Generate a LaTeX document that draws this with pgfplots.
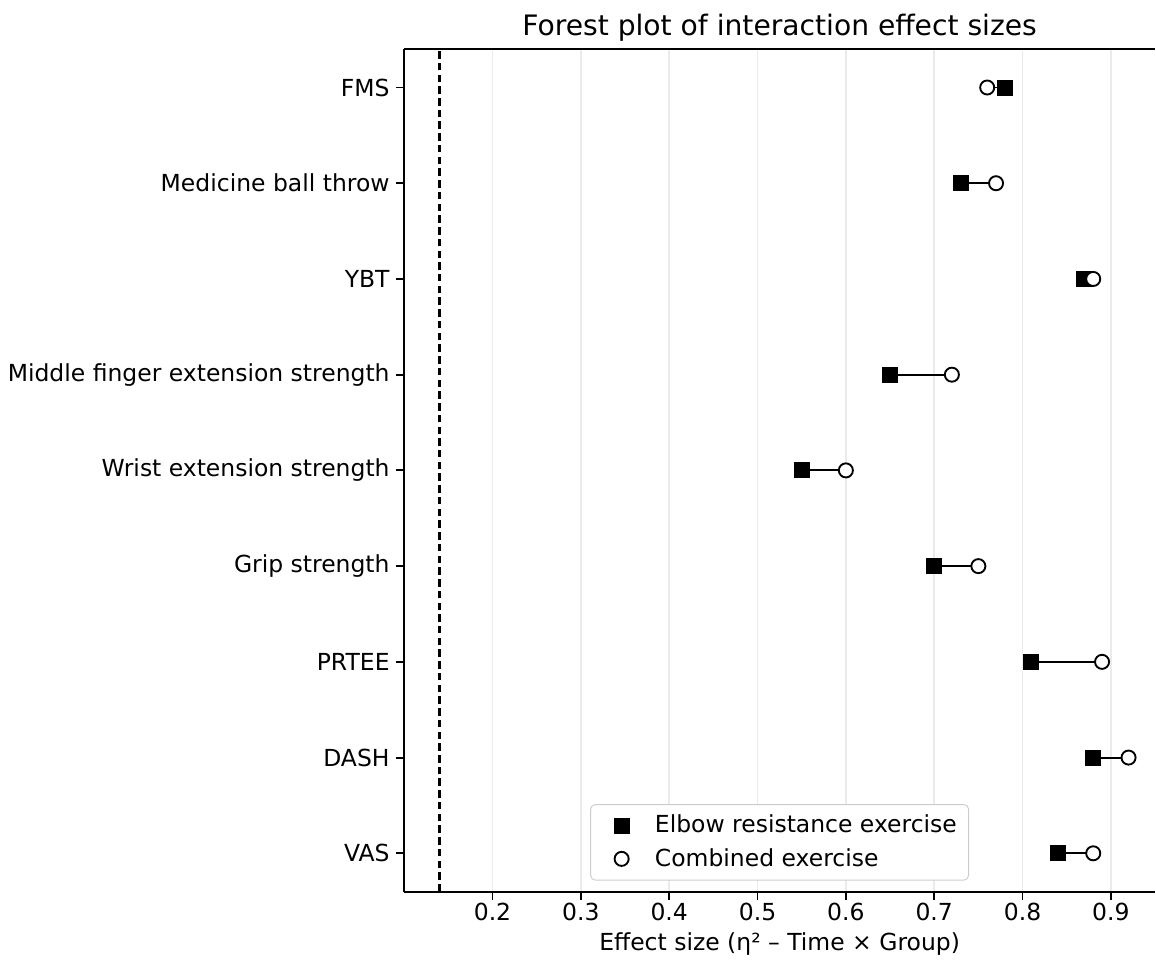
\documentclass[border=0pt]{standalone}
\usepackage{fontspec}
\setmainfont{DejaVu Sans}
\usepackage{pgfplots}
\pgfplotsset{compat=1.18}

\begin{document}
\begin{tikzpicture}
  \begin{axis}[
      scale only axis,
      width=320pt, height=359pt,
      xmin=0.10, xmax=0.95,
      ymin=-0.4, ymax=8.4,
      separate axis lines,
      axis x line*=box,
      axis y line*=left,
      axis line style={line width=0.8pt, black},
      xtick={0.2,0.3,0.4,0.5,0.6,0.7,0.8,0.9},
      xticklabels={0.2,0.3,0.4,0.5,0.6,0.7,0.8,0.9},
      ytick={0,1,2,3,4,5,6,7,8},
      yticklabels={VAS,DASH,PRTEE,Grip strength,Wrist extension strength,
        Middle finger extension strength,YBT,Medicine ball throw,FMS},
      tick align=outside,
      tick pos=left,
      major tick length=3.5pt,
      tick style={line width=0.8pt, black},
      xmajorgrids,
      grid style={line width=0.8pt, color=black!8},
      tick label style={font=\fontsize{10}{12}\selectfont},
      xticklabel style={yshift=2pt},
      yticklabel style={xshift=0.8pt},
      label style={font=\fontsize{10}{12}\selectfont},
      xlabel style={yshift=1.8pt},
      title={Forest plot of interaction effect sizes},
      title style={font=\fontsize{12}{14}\selectfont, yshift=-6pt},
      xlabel={Effect size (η² – Time × Group)},
      legend style={at={(0.5,0)}, anchor=south, yshift=4.7pt,
        draw=black!20, rounded corners=2pt,
        font=\fontsize{10}{12}\selectfont,
        inner xsep=3pt, inner ysep=2.5pt, row sep=1pt},
      legend cell align=left,
      legend image code/.code={
        \path (0pt,0pt) (22pt,0pt);
        \draw[#1] plot coordinates {(10pt,0pt)};
      },
    ]

    % threshold line
    \addplot[black, line width=1pt, dash pattern=on 3.2pt off 1.8pt, forget plot]
      coordinates {(0.14,-0.4) (0.14,8.4)};

    % connectors
    \addplot[black, line width=0.8pt, forget plot] coordinates {(0.84,0) (0.88,0)};
    \addplot[black, line width=0.8pt, forget plot] coordinates {(0.88,1) (0.92,1)};
    \addplot[black, line width=0.8pt, forget plot] coordinates {(0.81,2) (0.89,2)};
    \addplot[black, line width=0.8pt, forget plot] coordinates {(0.70,3) (0.75,3)};
    \addplot[black, line width=0.8pt, forget plot] coordinates {(0.55,4) (0.60,4)};
    \addplot[black, line width=0.8pt, forget plot] coordinates {(0.65,5) (0.72,5)};
    \addplot[black, line width=0.8pt, forget plot] coordinates {(0.87,6) (0.88,6)};
    \addplot[black, line width=0.8pt, forget plot] coordinates {(0.73,7) (0.77,7)};
    \addplot[black, line width=0.8pt, forget plot] coordinates {(0.78,8) (0.76,8)};

    % elbow resistance exercise
    \addplot[only marks, mark=square*, mark size=3.2pt,
      mark options={fill=black, draw=black}] coordinates {
      (0.84,0) (0.88,1) (0.81,2) (0.70,3) (0.55,4)
      (0.65,5) (0.87,6) (0.73,7) (0.78,8)
    };
    \addlegendentry{Elbow resistance exercise}

    % combined exercise
    \addplot[only marks, mark=*, mark size=3pt,
      mark options={fill=white, draw=black, line width=0.8pt}] coordinates {
      (0.88,0) (0.92,1) (0.89,2) (0.75,3) (0.60,4)
      (0.72,5) (0.88,6) (0.77,7) (0.76,8)
    };
    \addlegendentry{Combined exercise}

  \end{axis}
  \path ([yshift=2.5pt]current bounding box.north);
  \path ([yshift=-4.5pt]current bounding box.south);
\end{tikzpicture}
\end{document}
